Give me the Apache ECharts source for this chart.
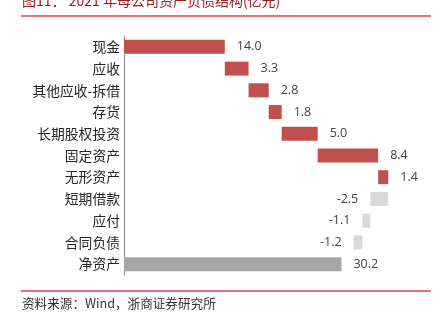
<!DOCTYPE html>
<html><head><meta charset="utf-8">
<script src="https://cdn.jsdelivr.net/npm/echarts@6/dist/echarts.min.js"></script>
<style>html,body{margin:0;padding:0;background:#fff}#c{width:440px;height:322px}</style>
</head><body><div id="c"></div>
<script>
const categories = ['现金','应收','其他应收-拆借','存货','长期股权投资','固定资产','无形资产','短期借款','应付','合同负债','净资产'];
const values = [14.0, 3.3, 2.8, 1.8, 5.0, 8.4, 1.4, -2.5, -1.1, -1.2, 30.2];
const totalIndex = 10;

const RED = '#C0504D', LIGHT = '#D9D9D9', DARK = '#A6A6A6';
const bases = [], sizes = [], colors = [];
let run = 0;
values.forEach((v, i) => {
  if (i === totalIndex) { bases.push(0); sizes.push(v); colors.push(DARK); return; }
  if (v >= 0) { bases.push(run); sizes.push(v); run += v; colors.push(RED); }
  else { run += v; bases.push(run); sizes.push(-v); colors.push(LIGHT); }
});

const chart = echarts.init(document.getElementById('c'), null, {renderer:'canvas'});
chart.setOption({
  animation:false,
  grid:{left:124, top:36, width:288, height:239, containLabel:false},
  xAxis:{type:'value', min:0, max:40, show:false},
  yAxis:{type:'category', inverse:true, data:categories,
    axisLine:{show:true, lineStyle:{color:'#888', width:1}},
    axisTick:{show:false},
    axisLabel:{margin:4, fontSize:13.8, color:'#262626', fontFamily:'"Noto Sans CJK SC", sans-serif', padding:[5,0,0,0]}
  },
  series:[
    {type:'bar', stack:'w', barWidth:14, itemStyle:{color:'transparent'}, data:bases, silent:true},
    {type:'bar', stack:'w', barWidth:14,
      data:sizes.map((s,i)=>({value:s, itemStyle:{color:colors[i]},
        label:{show:true, position: values[i] < 0 ? 'left' : 'right', distance:12}})),
      label:{show:true, fontSize:12.5, color:'#404040', fontFamily:'"Open Sans", "Noto Sans", sans-serif',
        formatter:p=>values[p.dataIndex].toFixed(1)}
    }
  ],
  graphic:[
    {type:'text', left:22, top:-6, style:{text:'图11： 2021 年母公司资产负债结构(亿元)', fill:'#9B1C20', fontSize:14, fontFamily:'"Noto Sans CJK SC", serif'}},
    {type:'line', shape:{x1:21, y1:16, x2:431, y2:16}, style:{stroke:'#D0474B', lineWidth:1.3}},
    {type:'line', shape:{x1:21, y1:291, x2:431, y2:291}, style:{stroke:'#D0474B', lineWidth:1.3}},
    {type:'text', left:22, top:297, style:{text:'资料来源：Wind，浙商证券研究所', fill:'#333', fontSize:12.6, fontFamily:'"Noto Sans CJK SC", serif'}}
  ]
});
</script></body></html>
